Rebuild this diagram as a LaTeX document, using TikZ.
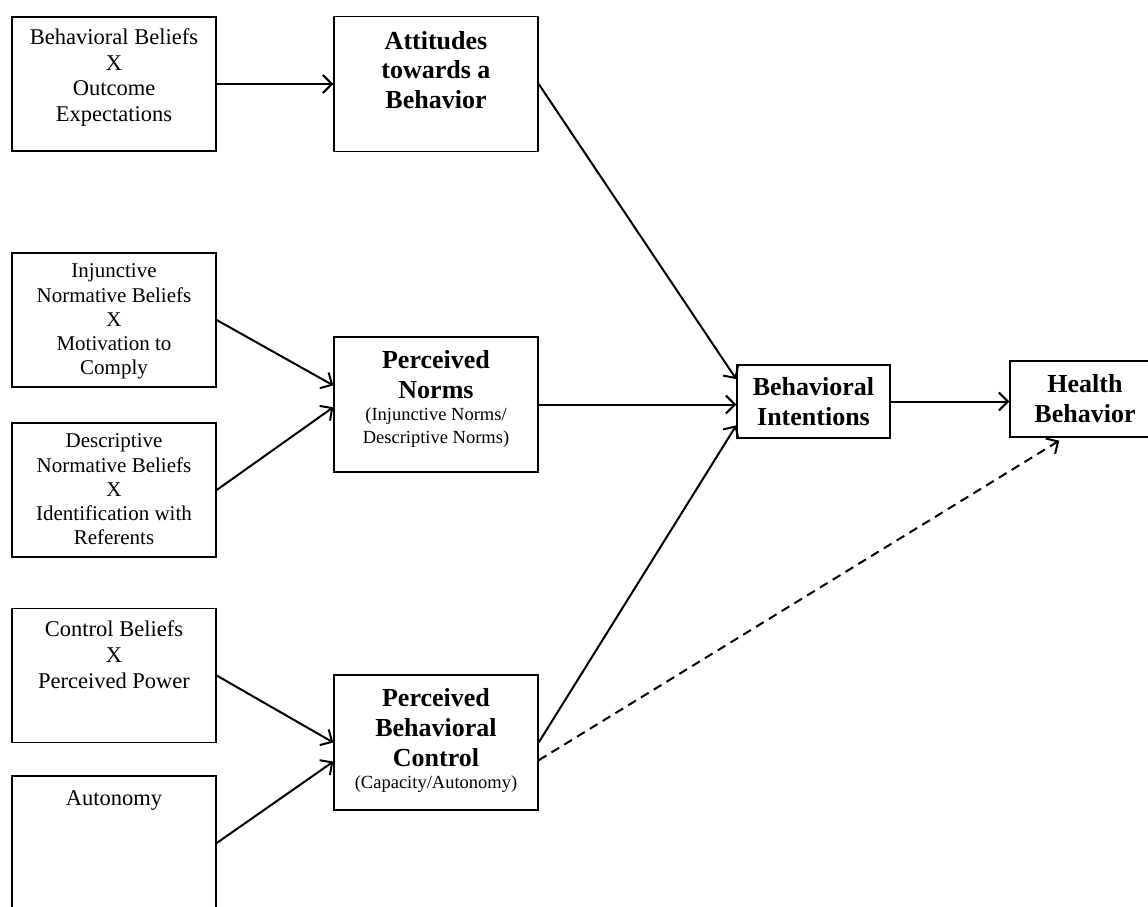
\documentclass[tikz,border=0pt]{standalone}
\usepackage{fontspec}
\setmainfont{Liberation Serif}
\usetikzlibrary{arrows.meta,calc}
\begin{document}
\begin{tikzpicture}[x=1pt,y=-1pt,
  lbox/.style={draw, line width=1.4pt, minimum width=204pt, minimum height=134pt, inner sep=0pt},
  mbox/.style={draw, line width=1.4pt, minimum width=204pt, minimum height=135pt, inner sep=0pt},
  rtext/.style={font=\fontsize{22.5}{25.8}\selectfont, align=center, inner sep=0pt, anchor=north},
  stext/.style={font=\fontsize{21}{24.2}\selectfont, align=center, inner sep=0pt, anchor=north},
  btext/.style={font=\bfseries\fontsize{26}{29.8}\selectfont, align=center, inner sep=0pt, anchor=north},
  ptext/.style={font=\fontsize{18.5}{23}\selectfont, align=center, inner sep=0pt, anchor=north},
  arr/.style={line width=2pt, -{Straight Barb[length=9pt,width=18pt,line width=2pt]}},
  dsh/.style={arr, dash pattern=on 9pt off 6pt}
]
\useasboundingbox (0,0) rectangle (1148,906);
\clip (0,0) rectangle (1148,906);

% left column
\node[lbox] (bb) at (114,84) {};
\node[rtext] (bbt) at ([yshift=-12pt]bb.north) {Behavioral Beliefs\\X\\Outcome\\Expectations};
\node[lbox] (inj) at (114,320) {};
\node[stext] (injt) at ([yshift=-11.5pt]inj.north) {Injunctive\\Normative Beliefs\\X\\Motivation to\\Comply};
\node[lbox] (desc) at (114,490) {};
\node[stext] (desct) at ([yshift=-11.5pt]desc.north) {Descriptive\\Normative Beliefs\\X\\Identification with\\Referents};
\node[lbox] (ctrl) at (114,675.5) {};
\node[rtext] (ctrlt) at ([yshift=-13pt]ctrl.north) {Control Beliefs\\X\\Perceived Power};
\node[lbox] (auto) at (114,843) {};
\node[rtext] (autot) at ([yshift=-15pt]auto.north) {Autonomy};

% middle column
\node[mbox] (att) at (436,84) {};
\node[btext] (attt) at ([yshift=-15pt]att.north) {Attitudes\\towards a\\Behavior};
\node[mbox] (pn) at (436,404.5) {};
\node[btext] (pnt) at ([yshift=-14pt]pn.north) {Perceived\\Norms};
\node[ptext] (pns) at ([yshift=-71pt]pn.north) {(Injunctive Norms/\\Descriptive Norms)};
\node[mbox] (pbc) at (436,742.5) {};
\node[btext] (pbct) at ([yshift=-14pt]pbc.north) {Perceived\\Behavioral\\Control};
\node[ptext] (pbcs) at ([yshift=-101pt]pbc.north) {(Capacity/Autonomy)};

% right
\node[draw, line width=1.4pt, minimum width=153pt, minimum height=73pt, inner sep=0pt,
      font=\bfseries\fontsize{26}{30}\selectfont, align=center] (bi) at (813.5,401.5) {Behavioral\\Intentions};
\node[draw, line width=1.4pt, minimum width=150pt, minimum height=76pt, inner sep=0pt,
      font=\bfseries\fontsize{26}{30}\selectfont, align=center] (hb) at (1085,399) {Health\\Behavior};

% connectors
\draw[arr] (bb.east) -- (att.west);
\draw[arr] (inj.east) -- ($(pn.north west)!0.36!(pn.south west)$);
\draw[arr] (desc.east) -- ($(pn.north west)!0.52!(pn.south west)$);
\draw[arr] (ctrl.east) -- (pbc.west);
\draw[arr] (auto.east) -- ($(pbc.north west)!0.64!(pbc.south west)$);
\draw[arr] (att.east) -- ($(bi.north west)!0.2!(bi.south west)$);
\draw[arr] (pn.east) -- (pn.east -| bi.west);
\draw[arr] (pbc.east) -- ($(bi.north west)!0.82!(bi.south west)$);
\draw[arr] (bi.east) -- (bi.east -| hb.west);
\draw[dsh] ($(pbc.north east)!0.63!(pbc.south east)$) -- ($(hb.south west)!0.33!(hb.south east)+(0,3)$);
\end{tikzpicture}
\end{document}
